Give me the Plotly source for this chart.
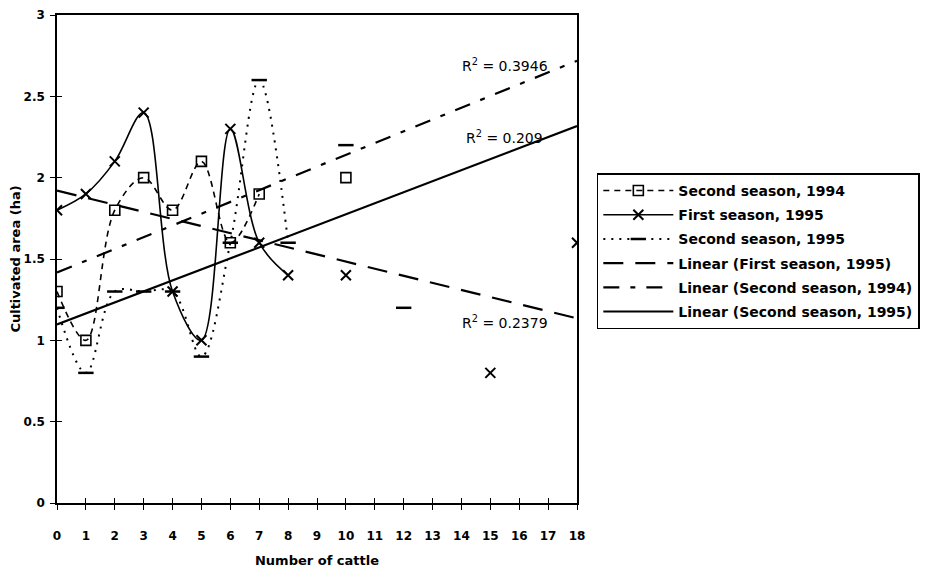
import numpy as np
import plotly.graph_objects as go

# ---- data ----
cattle_s1994 = [0, 1, 2, 3, 4, 5, 6, 7, 10]
area_s1994 = [1.3, 1.0, 1.8, 2.0, 1.8, 2.1, 1.6, 1.9, 2.0]
joined_s1994 = 8          # first points joined by the smoothed line

cattle_f1995 = [0, 1, 2, 3, 4, 5, 6, 7, 8, 10, 15, 18]
area_f1995 = [1.8, 1.9, 2.1, 2.4, 1.3, 1.0, 2.3, 1.6, 1.4, 1.4, 0.8, 1.6]
joined_f1995 = 9

cattle_s1995 = [0, 1, 2, 3, 4, 5, 6, 7, 8, 10, 12]
area_s1995 = [1.2, 0.8, 1.3, 1.3, 1.3, 0.9, 1.6, 2.6, 1.6, 2.2, 1.2]
joined_s1995 = 9

r2_labels = ["R<sup>2</sup> = 0.3946", "R<sup>2</sup> = 0.209", "R<sup>2</sup> = 0.2379"]
r2_pos = [(15.5, 2.69), (15.5, 2.25), (15.5, 1.11)]

x_ticks = list(range(0, 19))
y_ticks = [0, 0.5, 1, 1.5, 2, 2.5, 3]
y_ticklabels = ["0", "0.5", "1", "1.5", "2", "2.5", "3"]

FONT = "DejaVu Sans, Liberation Sans, sans-serif"


def with_gaps(xs, ys, joined):
    """Line through the first `joined` points, then isolated markers."""
    px, py = list(xs[:joined]), list(ys[:joined])
    for a, b in zip(xs[joined:], ys[joined:]):
        px += [None, a]
        py += [None, b]
    return px, py


def trend(xs, ys):
    k, c = np.polyfit(xs, ys, 1)
    tx = np.array([0.0, 18.0])
    return tx, k * tx + c


fig = go.Figure()

x, y = with_gaps(cattle_s1994, area_s1994, joined_s1994)
fig.add_trace(go.Scatter(
    x=x, y=y, mode="lines+markers", name="Second season, 1994",
    line=dict(color="black", width=1.6, dash="6px,5px", shape="spline", smoothing=1),
    marker=dict(symbol="square-open", size=10, color="black", line=dict(width=1.6)),
    legendgroup="a"))

x, y = with_gaps(cattle_f1995, area_f1995, joined_f1995)
fig.add_trace(go.Scatter(
    x=x, y=y, mode="lines+markers", name="First season, 1995",
    line=dict(color="black", width=1.6, shape="spline", smoothing=1),
    marker=dict(symbol="x-thin-open", size=10, color="black", line=dict(width=2, color="black")),
    legendgroup="b"))

x, y = with_gaps(cattle_s1995, area_s1995, joined_s1995)
fig.add_trace(go.Scatter(
    x=x, y=y, mode="lines+markers", name="Second season, 1995",
    line=dict(color="black", width=2, dash="2px,6px", shape="spline", smoothing=1),
    marker=dict(symbol="line-ew-open", size=11, color="black", line=dict(width=2.5, color="black")),
    legendgroup="c"))

tx, ty = trend(cattle_f1995, area_f1995)
fig.add_trace(go.Scatter(
    x=tx, y=ty, mode="lines", name="Linear (First season, 1995)",
    line=dict(color="black", width=2.2, dash="20px,12px"), legendgroup="d"))

tx, ty = trend(cattle_s1994, area_s1994)
fig.add_trace(go.Scatter(
    x=tx, y=ty, mode="lines", name="Linear (Second season, 1994)",
    line=dict(color="black", width=2.2, dash="16px,11px,5px,11px"), legendgroup="e"))

tx, ty = trend(cattle_s1995, area_s1995)
fig.add_trace(go.Scatter(
    x=tx, y=ty, mode="lines", name="Linear (Second season, 1995)",
    line=dict(color="black", width=2.2), legendgroup="f"))

# invisible trace for the overlay axes that give the cross tick marks
fig.add_trace(go.Scatter(x=[None], y=[None], xaxis="x2", yaxis="y2",
                         showlegend=False, hoverinfo="skip"))

for (ax, ay), txt in zip(r2_pos, r2_labels):
    fig.add_annotation(x=ax, y=ay, text=txt, showarrow=False,
                       font=dict(family=FONT, size=14, color="black"),
                       xanchor="center", yanchor="middle")

axis_common = dict(showgrid=False, zeroline=False, linecolor="black", linewidth=1.6,
                   tickcolor="black", tickwidth=1.4, ticklen=5, automargin=False)

fig.update_layout(
    width=945, height=582,
    margin=dict(l=49, r=376, t=7, b=87),
    paper_bgcolor="white", plot_bgcolor="white",
    font=dict(family=FONT, color="black"),
    xaxis=dict(range=[0, 18], tickvals=x_ticks, ticks="outside", showline=True, mirror=True,
               tickfont=dict(family=FONT, size=12, color="black", weight="bold"),
               ticklabelstandoff=16,
               title=dict(text="Number of cattle", standoff=14,
                          font=dict(family=FONT, size=13, color="black", weight="bold")),
               **axis_common),
    yaxis=dict(range=[0, 3], tickvals=y_ticks, ticktext=y_ticklabels, ticks="outside",
               showline=True, mirror=True,
               tickfont=dict(family=FONT, size=12, color="black", weight="bold"),
               ticklabelstandoff=3,
               title=dict(text="Cultivated area (ha)", standoff=3,
                          font=dict(family=FONT, size=13, color="black", weight="bold")),
               **axis_common),
    xaxis2=dict(range=[0, 18], tickvals=x_ticks, ticks="inside", showticklabels=False,
                overlaying="x", anchor="y2", side="bottom", showline=False,
                showgrid=False, zeroline=False, tickcolor="black", tickwidth=1.4, ticklen=5),
    yaxis2=dict(range=[0, 3], tickvals=y_ticks, ticks="inside", showticklabels=False,
                overlaying="y", anchor="x2", side="left", showline=False,
                showgrid=False, zeroline=False, tickcolor="black", tickwidth=1.4, ticklen=5),
    legend=dict(xref="container", yref="container", x=0.623, y=0.716,
                xanchor="left", yanchor="top",
                bgcolor="white", bordercolor="black", borderwidth=1.6,
                font=dict(family=FONT, size=14, color="black", weight="bold"),
                itemwidth=70, traceorder="grouped", tracegroupgap=3),
    showlegend=True,
)

fig.write_html("out.html")
